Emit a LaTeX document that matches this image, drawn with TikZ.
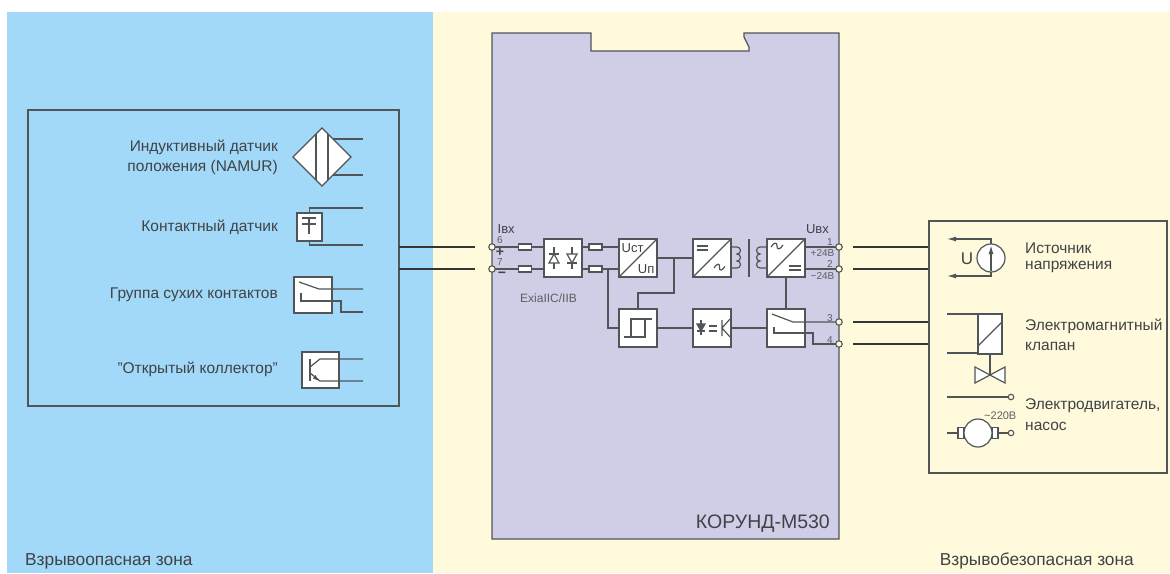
\documentclass[tikz,border=0pt]{standalone}
\usepackage{fontspec}
\setmainfont{Liberation Sans}
\usetikzlibrary{arrows.meta}
\definecolor{zblue}{HTML}{A2D8F8}
\definecolor{zyellow}{HTML}{FFFADB}
\definecolor{zlilac}{HTML}{D0CDE6}
\definecolor{zline}{HTML}{505558}
\definecolor{ztext}{HTML}{3F4345}
\tikzset{
 wire/.style={draw=zline,line width=1.2pt},
 frame/.style={draw=zline,line width=1.3pt},
 blockbox/.style={draw=zline,fill=white,line width=1.3pt,minimum width=38pt,minimum height=38pt,inner sep=0pt,outer sep=0pt},
 fuse/.style={draw=zline,fill=white,line width=1.2pt,minimum width=13.5pt,minimum height=6pt,inner sep=0pt,outer sep=0pt},
 terminal/.style={circle,draw=zline,fill=zyellow,line width=1.1pt,minimum size=6.5pt,inner sep=0pt,outer sep=0pt},
 lab/.style={text=ztext,font=\fontsize{15.5}{15.5}\selectfont,inner sep=0pt},
 zonelab/.style={text=ztext,font=\fontsize{17.3}{17.3}\selectfont,inner sep=0pt},
 small/.style={text=ztext!85!white,font=\fontsize{10}{10}\selectfont,inner sep=0pt},
 mid/.style={text=ztext,font=\fontsize{13}{13}\selectfont,inner sep=0pt},
 sym/.style={draw=zline,line width=1.2pt},
}
\begin{document}
\begin{tikzpicture}[x=1pt,y=-1pt]
\useasboundingbox (0,0) rectangle (1170,573);
\fill[white] (0,0) rectangle (1170,573);
\fill[zblue] (7,12) rectangle (433,573);
\fill[zyellow] (433,12) rectangle (1170,573);
\node[zonelab,anchor=west] (zoneA) at (25,561) {Взрывоопасная зона};
\node[zonelab,anchor=east] (zoneB) at (1134,561) {Взрывобезопасная зона};

% module housing
\draw[frame,fill=zlilac] (492,33) -- (591,33) -- (591,51) -- (749,51) -- (749,47) -- (744,37) -- (744,33) -- (839,33) -- (839,539) -- (492,539) -- cycle;
\node[inner sep=0pt,anchor=east,text=ztext,font=\fontsize{19.5}{19.5}\selectfont] (name) at (830,524) {КОРУНД-М530};

% left frame
\draw[frame] (28,110) rectangle (399,406);
\coordinate (lboxA) at (399,247);
\coordinate (lboxB) at (399,269);
\coordinate (rboxA) at (929,247);
\coordinate (rboxB) at (929,269);
\coordinate (rboxC) at (929,322);
\coordinate (rboxD) at (929,344);
\coordinate (inA) at (475,247);
\coordinate (inB) at (475,269);
\coordinate (outA) at (853,247);
\coordinate (outB) at (853,269);
\coordinate (outC) at (853,322);
\coordinate (outD) at (853,344);
\draw[wire,draw=ztext!80!black,line width=1.3pt] (lboxA) -- (inA) (lboxB) -- (inB) (outA) -- (rboxA) (outB) -- (rboxB) (outC) -- (rboxC) (outD) -- (rboxD);

% inductive sensor
\coordinate (na) at (363,139);
\coordinate (nb) at (363,175);
\draw[wire] (333,139) -- (na) (333,175) -- (nb);
\draw[frame,fill=white] (293,157) -- (322,128) -- (351,157) -- (322,186) -- cycle;
\draw[sym] (316,134) -- (316,180) (328,134) -- (328,180);
\node[lab,anchor=east] at (278,147.5) {Индуктивный датчик};
\node[lab,anchor=east] at (278,167.5) {положения (NAMUR)};

% contact sensor
\coordinate (ca) at (363,208);
\coordinate (cb) at (363,245);
\node[blockbox,minimum width=25pt,minimum height=28pt] (contact) at (309.5,227) {};
\draw[wire] (contact.north) -- ++(0,-5) -- (ca) (contact.south) -- ++(0,4) -- (cb);
\draw[sym] (302,218) -- (316,218) (302,224) -- (316,224) (309,218) -- (309,234);
\node[lab,anchor=east] at (278,227.5) {Контактный датчик};

% dry contacts
\coordinate (da) at (363,289);
\coordinate (db) at (363,312);
\node[blockbox,minimum width=38pt,minimum height=36pt] (dry) at (313,295) {};
\draw[wire] (299,282) -- (319,289) -- (da);
\draw[wire] (301,293) -- (301,301) -- (341,301) -- (341,312) -- (db);
\node[lab,anchor=east] at (278,295) {Группа сухих контактов};

% open collector
\coordinate (oa) at (363,359);
\coordinate (ob) at (363,381);
\node[blockbox,minimum width=37pt,minimum height=36pt] (oc) at (320.5,370) {};
\draw[sym] (310,359) -- (310,381);
\draw[wire] (310,367) -- (320,359) -- (oa);
\draw[wire] (310,373) -- (320,381) -- (ob);
\fill[zline] (318.5,380.5) -- (313,378.5) -- (315.5,375) -- cycle;
\node[lab,anchor=east] at (278,369.5) {"Открытый коллектор"};

% terminals
\node[terminal] (t6) at (492,247) {};
\node[terminal] (t7) at (492,269) {};
\node[terminal] (t1) at (839,247) {};
\node[terminal] (t2) at (839,269) {};
\node[terminal] (t3) at (839,322) {};
\node[terminal] (t4) at (839,344) {};

% blocks
\node[blockbox] (bridge) at (563,258) {};
\node[blockbox] (stab) at (638,258) {};
\node[blockbox] (hyst) at (638,328) {};
\node[blockbox] (conv1) at (712,258) {};
\node[blockbox] (conv2) at (786,258) {};
\node[blockbox] (opto) at (712,328) {};
\node[blockbox] (relay) at (786,328) {};

% fuses
\node[fuse] (f1) at (525,247) {};
\node[fuse] (f2) at (525,269) {};
\node[fuse,minimum width=13pt] (f3) at (595.5,247) {};
\node[fuse,minimum width=13pt] (f4) at (595.5,269) {};

% connectors in the module
\draw[wire] (t6) -- (f1) (f1) -- (bridge.west|-f1);
\draw[wire] (t7) -- (f2) (f2) -- (bridge.west|-f2);
\draw[wire] (bridge.east|-f3) -- (f3) (f3) -- (stab.west|-f3);
\draw[wire] (bridge.east|-f4) -- (f4) (f4) -- (stab.west|-f4);
\draw[wire] (608,269) -- (608,328) -- (hyst.west);
\draw[wire] (hyst.north) -- (638,293) -- (674,293) -- (674,258);
\draw[wire] (stab.east) -- (conv1.west);
\draw[wire] (hyst.east) -- (opto.west);
\draw[wire] (opto.east) -- (relay.west);
\draw[wire] (conv2.south) -- (relay.north);
\draw[wire] (conv2.east|-t1) -- (t1);
\draw[wire] (conv2.east|-t2) -- (t2);
\draw[wire] (772,314) -- (793,322) -- (t3);
\draw[wire] (774,327) -- (774,333) -- (813,333) -- (813,344) -- (t4);

% bridge symbols
\draw[sym] (554,247) -- (554,269) (572,247) -- (572,269);
\draw[sym,fill=white] (549,263) -- (559,263) -- (554,254) -- cycle;
\draw[sym] (549,254) -- (559,254);
\draw[sym,fill=white] (567,254) -- (577,254) -- (572,263) -- cycle;
\draw[sym] (567,263) -- (577,263);

% stabilizer
\draw[sym] (stab.south west) -- (stab.north east);
\node[mid,anchor=west] at (621.5,248) {Uст};
\node[mid,anchor=east] at (654.5,269) {Uп};

% hysteresis
\draw[sym] (624,337) -- (646,337) (631,337) -- (631,319) -- (652,319) (645,319) -- (645,337);

% converter 1
\draw[sym] (conv1.south west) -- (conv1.north east);
\draw[sym] (697,246) -- (708,246) (697,250) -- (708,250);
\draw[sym] (714,268) .. controls (717,263) and (720,263) .. (719.5,267.5) .. controls (719,271) and (722,271) .. (725,266.5);
% transformer
\draw[sym] (731,247) -- (737,247) arc[start angle=-90,end angle=90,radius=3.5] arc[start angle=-90,end angle=90,radius=3.5] arc[start angle=-90,end angle=90,radius=3.5] -- (731,268);
\draw[sym] (749,239) -- (749,277);
\draw[sym] (767,247) -- (760,247) arc[start angle=270,end angle=90,radius=3.5] arc[start angle=270,end angle=90,radius=3.5] arc[start angle=270,end angle=90,radius=3.5] -- (767,268);

% converter 2
\draw[sym] (conv2.south west) -- (conv2.north east);
\draw[sym] (771,247) .. controls (774,242) and (777,242) .. (777,246) .. controls (777,250) and (780,250) .. (783,245);
\draw[sym] (789,266) -- (801,266) (789,270) -- (801,270);

% optocoupler
\draw[sym] (701,320) -- (701,335);
\draw[sym,fill=zline] (697,324) -- (705,324) -- (701,331) -- cycle;
\draw[sym] (697,331) -- (705,331);
\draw[sym] (709,326) -- (717,326) (709,331) -- (717,331);
\draw[sym] (722,320) -- (722,336) (730,319) -- (722,328) -- (730,337);

% module labels
\node[mid,anchor=west] at (497.5,229) {Iвх};
\node[small] at (500,240) {6};
\node[text=ztext,inner sep=0pt,font=\fontsize{14}{14}\selectfont\bfseries] at (500,252) {+};
\node[small] at (500,262) {7};
\node[text=ztext,inner sep=0pt,font=\fontsize{14}{14}\selectfont\bfseries] at (502,275) {−};
\node[mid,anchor=west,text=ztext!85!white,font=\fontsize{12}{12}\selectfont] at (520,298) {ExiaIIC/IIB};
\node[mid,anchor=east] at (829,229) {Uвх};
\node[small] at (830,242) {1};
\node[small,anchor=east] at (834.5,253) {+24В};
\node[small] at (830,264) {2};
\node[small,anchor=east] at (834.5,276) {−24В};
\node[small] at (830,318) {3};
\node[small] at (830,340) {4};

% right frame
\draw[frame] (929,221) rectangle (1167,473);

% voltage source
\node[circle,draw=zline,fill=white,line width=1.2pt,minimum size=28pt,inner sep=0pt,outer sep=0pt] (src) at (991,258) {};
\coordinate (sa) at (947,239);
\coordinate (sb) at (947,276);
\draw[wire,-{Latex[length=9pt,width=5pt]}] (src.north) -- (991,239) -- (sa);
\draw[wire,-{Latex[length=9pt,width=5pt]}] (src.south) -- (991,276) -- (sb);
\draw[wire,line width=1.4pt,-{Latex[length=9pt,width=5pt]}] (991,271) -- (991,245);
\node[lab,anchor=center,font=\fontsize{17}{17}\selectfont] at (967,258.5) {U};
\node[lab,anchor=west] at (1025,248) {Источник};
\node[lab,anchor=west] at (1025,267) {напряжения};

% valve
\node[blockbox,minimum width=24pt,minimum height=40pt] (coil) at (990,334) {};
\draw[sym] (coil.west|-0,346) -- (coil.east|-0,322);
\coordinate (va) at (947,314);
\coordinate (vb) at (947,353);
\draw[wire] (va) -- (coil.north west);
\draw[wire] (vb) -- (coil.west|-vb);
\coordinate (vc) at (990,375);
\draw[wire] (coil.south) -- (vc);
\draw[sym,fill=white] (975,367) -- (1005,383) -- (1005,367) -- (975,383) -- cycle;
\node[lab,anchor=west] at (1025,326) {Электромагнитный};
\node[lab,anchor=west] at (1025,346) {клапан};

% motor line
\coordinate (ma) at (947,397);
\node[terminal,minimum size=5.5pt] (mt) at (1011,397) {};
\draw[wire] (ma) -- (mt);
\node[fuse,minimum width=6pt,minimum height=11pt] (bl) at (961,433) {};
\node[fuse,minimum width=6pt,minimum height=11pt] (br) at (995,433) {};
\node[circle,draw=zline,fill=white,line width=1.2pt,minimum size=28pt,inner sep=0pt,outer sep=0pt] (motor) at (978,433) {};
\coordinate (mb) at (947,433);
\node[terminal,minimum size=5.5pt] (mc) at (1011,433) {};
\draw[wire] (mb) -- (bl.west);
\draw[wire] (br.east) -- (mc);
\node[small,anchor=west,font=\fontsize{11}{11}\selectfont] at (984,416) {\char`~220В};
\node[lab,anchor=west] at (1025,406) {Электродвигатель,};
\node[lab,anchor=west] at (1025,426) {насос};
\end{tikzpicture}
\end{document}
